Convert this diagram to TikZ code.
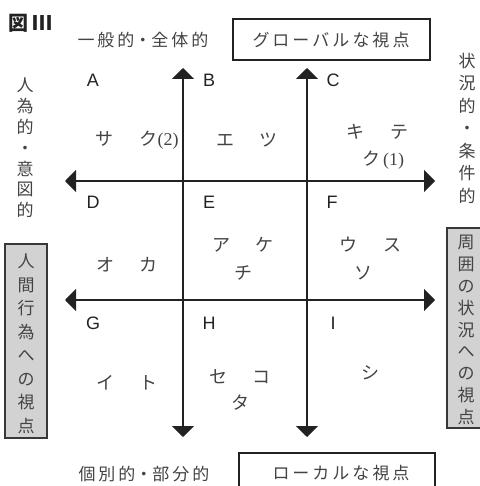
\documentclass[tikz,border=0pt]{standalone}
\usepackage{fontspec}
\usetikzlibrary{arrows.meta}
\newfontfamily\cjk{Noto Sans CJK JP}
\newfontfamily\lsans{Liberation Sans}
\newfontfamily\lserif{Liberation Serif}
\newcommand\kgap{\hspace{26pt}}
\newcommand\tg{\hspace{3pt}}
\definecolor{ink}{HTML}{222222}
\definecolor{boxgray}{HTML}{D2D2D2}
\tikzset{
  axis/.style={line width=2pt, draw=ink, {Triangle[width=22pt,length=11pt]}-{Triangle[width=22pt,length=11pt]}},
  letter/.style={font=\lsans\fontsize{18}{18}\selectfont, text=ink, inner sep=0pt},
  cell/.style={font=\cjk\fontsize{18}{18}\selectfont, text=ink!85, inner sep=0pt},
  lab/.style={font=\cjk\fontsize{17}{17}\selectfont, text=ink!85, inner sep=0pt},
  vtext/.style={align=center, text=ink!85, inner sep=0pt},
  wbox/.style={draw=ink, line width=1.3pt, fill=white},
  gbox/.style={draw=ink!90, line width=1.3pt, fill=boxgray},
}
\begin{document}
\begin{tikzpicture}[x=1pt,y=-1pt]
\useasboundingbox (0,0) rectangle (479,486);
% title
\node[font=\cjk\bfseries\fontsize{20}{20}\selectfont, text=ink, inner sep=0pt] (title) at (31,23) {図\hspace{4pt}Ⅲ};
% top labels
\node[lab] (gen) at (143,40) {一\tg 般\tg 的・全\tg 体\tg 的};
\draw[wbox] (233,19) rectangle (430,60);
\node[lab] (glob) at (331,40) {グ\tg ロ\tg ー\tg バ\tg ル\tg な\tg 視\tg 点};
% bottom labels
\node[lab] (ind) at (144,474) {個\tg 別\tg 的・部\tg 分\tg 的};
\draw[wbox] (239,453) rectangle (435,500);
\node[lab] (loc) at (341,473) {ロ\tg ー\tg カ\tg ル\tg な\tg 視\tg 点};
% side labels
\node[vtext, font=\cjk\fontsize{17}{20.8}\selectfont] (jin) at (25,148) {人\\為\\的\\・\\意\\図\\的};
\node[vtext, font=\cjk\fontsize{17}{22.5}\selectfont] (jou) at (467,128) {状\\況\\的\\・\\条\\件\\的};
\draw[gbox] (5,244) rectangle (47,438);
\node[vtext, font=\cjk\fontsize{17}{23.5}\selectfont] (hum) at (26,344) {人\\間\\行\\為\\へ\\の\\視\\点};
\draw[gbox] (447,228) rectangle (490,428);
\node[vtext, font=\cjk\fontsize{17}{21.9}\selectfont] (env) at (466,330) {周\\囲\\の\\状\\況\\へ\\の\\視\\点};
% axes
\coordinate (v1t) at (183,68);
\coordinate (v1b) at (183,437);
\coordinate (v2t) at (307,68);
\coordinate (v2b) at (307,437);
\coordinate (h1l) at (65,181);
\coordinate (h1r) at (435,181);
\coordinate (h2l) at (65,300);
\coordinate (h2r) at (435,300);
\draw[axis] (v1t) -- (v1b);
\draw[axis] (v2t) -- (v2b);
\draw[axis] (h1l) -- (h1r);
\draw[axis] (h2l) -- (h2r);
% cell letters
\node[letter] (A) at (93,80) {A};
\node[letter] (B) at (209,80) {B};
\node[letter] (C) at (333,80) {C};
\node[letter] (D) at (93,202) {D};
\node[letter] (E) at (209,202) {E};
\node[letter] (F) at (332,202) {F};
\node[letter] (G) at (93,323) {G};
\node[letter] (H) at (209,323) {H};
\node[letter] (I) at (333,323) {I};
% cell contents
\node[cell] (a1) at (137,140) {サ\kgap ク{\lserif(2)}};
\node[cell] (b1) at (247,140) {エ\kgap ツ};
\node[cell] (c1) at (377,132) {キ\kgap テ};
\node[cell] (c2) at (383,160) {ク\,{\lserif(1)}};
\node[cell] (d1) at (127,265) {オ\kgap カ};
\node[cell] (e1) at (243,245) {ア\kgap ケ};
\node[cell] (e2) at (243,273) {チ};
\node[cell] (f1) at (370,245) {ウ\kgap ス};
\node[cell] (f2) at (363,273) {ソ};
\node[cell] (g1) at (127,383) {イ\kgap ト};
\node[cell] (h1) at (240,377) {セ\kgap コ};
\node[cell] (h2) at (240,403) {タ};
\node[cell] (i1) at (370,373) {シ};
\end{tikzpicture}
\end{document}
